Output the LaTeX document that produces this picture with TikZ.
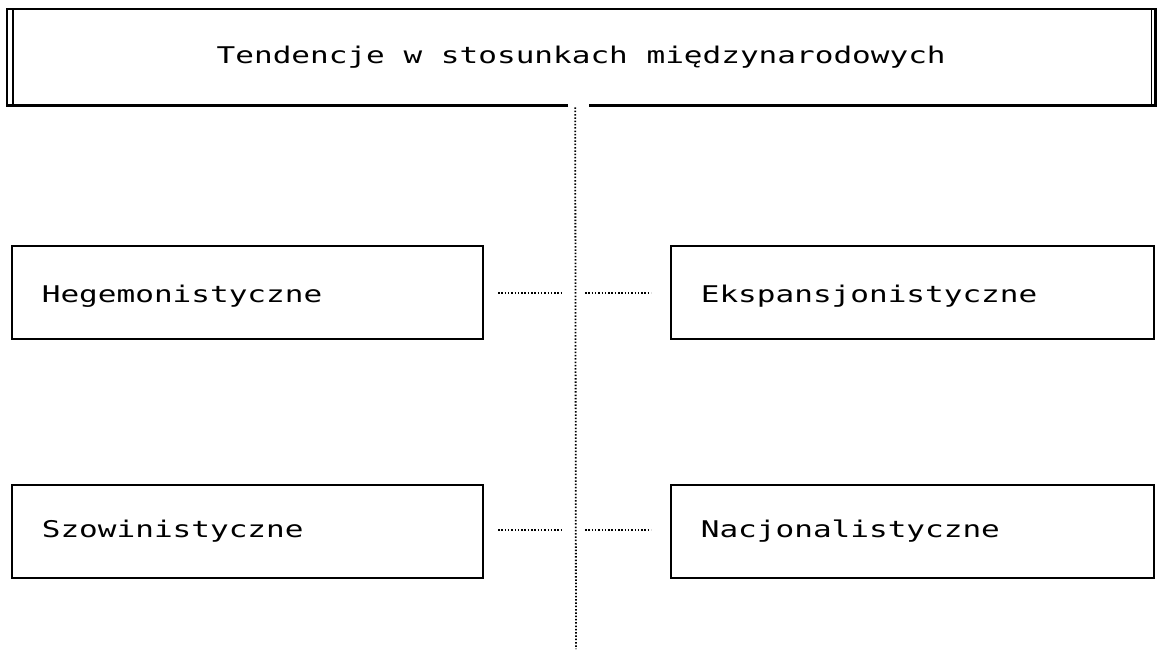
\documentclass[tikz,border=0pt]{standalone}
\usepackage{fontspec}
\newfontfamily\dmfont[FakeStretch=1.35]{DejaVu Sans Mono}
\usetikzlibrary{calc}
\begin{document}
\begin{tikzpicture}[x=1pt,y=-1pt,
  txt/.style={font=\dmfont\fontsize{23}{28}\selectfont},
  catbox/.style={txt,draw,line width=1.7pt,anchor=north west,minimum height=93pt,
     text width=411pt,inner xsep=30pt,align=left},
  lowered/.style={text height=21pt,text depth=0pt},
  dotline/.style={line width=1.8pt,dash pattern=on 1.5pt off 1.8pt}]
\useasboundingbox (0,0) rectangle (1163,651);
% title box
\node[txt,draw=none,minimum width=1148pt,minimum height=96pt,anchor=north west,inner sep=0pt]
  (top) at (7,9) {Tendencje w stosunkach międzynarodowych};
\draw[line width=2.6pt] ($(top.south)+(-13,0)$) -- (top.south west) -- (top.north west) -- (top.north east)
  -- (top.south east) -- ($(top.south)+(8,0)$);
\draw[line width=1.6pt] ($(top.north west)+(6,1)$) -- ($(top.south west)+(6,-1)$);
\draw[line width=1.6pt] ($(top.north east)+(-4,1)$) -- ($(top.south east)+(-4,-1)$);
% category boxes
\node[catbox,lowered] (heg) at (11,245) {Hegemonistyczne};
\node[catbox,lowered,text width=423pt] (eks) at (670,245) {Ekspansjonistyczne};
\node[catbox] (szo) at (11,484) {Szowinistyczne};
\node[catbox,text width=423pt] (nac) at (670,484) {Nacjonalistyczne};
% dotted connectors
\coordinate (vend) at (576,649);
\draw[dotline] ($(top.south)+(-6,2)$) -- (vend);
\coordinate (h1a) at (498,293); \coordinate (h1b) at (562,293);
\coordinate (h1c) at (585,293); \coordinate (h1d) at (651,293);
\coordinate (h2a) at (498,530); \coordinate (h2b) at (562,530);
\coordinate (h2c) at (585,530); \coordinate (h2d) at (651,530);
\draw[dotline] (h1a) -- (h1b);
\draw[dotline] (h1c) -- (h1d);
\draw[dotline] (h2a) -- (h2b);
\draw[dotline] (h2c) -- (h2d);
\end{tikzpicture}
\end{document}
